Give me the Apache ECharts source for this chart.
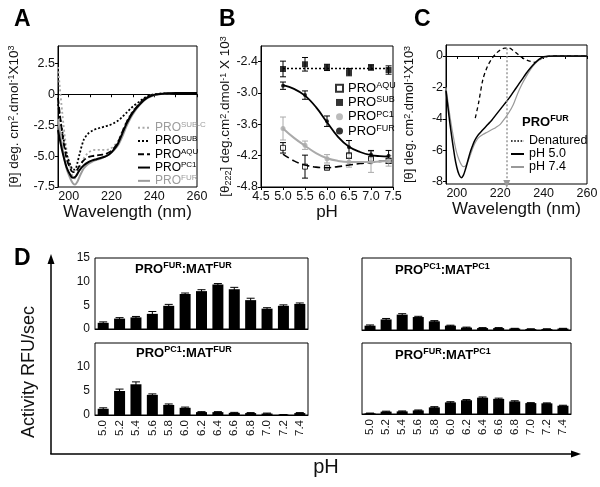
<!DOCTYPE html>
<html><head><meta charset="utf-8">
<script src="https://cdn.jsdelivr.net/npm/echarts@6/dist/echarts.min.js"></script>
<style>html,body{margin:0;padding:0;background:#fff}#c{width:600px;height:487px}</style>
</head><body><div id="c"></div>
<script>
// ---------- Panel A ----------
const wlA = [195,197,199,201,202,203,204,205,207,209,211,213,215,217,219,221,223,225,227,229,231,233,235,237,240,245,250,255,260];
const aSUBC = [2.2,-1.5,-4.5,-6.2,-6.7,-6.8,-6.5,-6.0,-5.2,-4.75,-4.55,-4.5,-4.5,-4.5,-4.45,-4.2,-3.8,-3.0,-2.2,-1.6,-1.1,-0.7,-0.4,-0.2,0.0,0.05,0.1,0.1,0.1];
const aSUB  = [-0.8,-3.0,-4.8,-5.8,-6.1,-6.1,-5.6,-4.9,-3.7,-3.2,-2.95,-2.8,-2.7,-2.6,-2.5,-2.35,-2.15,-1.85,-1.5,-1.15,-0.85,-0.6,-0.35,-0.15,0.0,0.08,0.1,0.1,0.1];
const aAQU  = [-0.3,-3.2,-5.2,-6.1,-6.3,-6.3,-6.1,-5.8,-5.35,-5.1,-5.0,-4.95,-4.9,-4.85,-4.7,-4.4,-3.9,-3.1,-2.3,-1.7,-1.2,-0.8,-0.45,-0.2,-0.03,0.05,0.1,0.1,0.1];
const aPC1  = [-2.9,-4.6,-5.9,-6.6,-6.75,-6.7,-6.45,-6.15,-5.75,-5.5,-5.35,-5.25,-5.15,-5.05,-4.85,-4.5,-4.0,-3.2,-2.4,-1.75,-1.25,-0.85,-0.5,-0.25,-0.05,0.05,0.1,0.1,0.1];
const aFUR  = [-2.0,-4.3,-6.0,-6.9,-7.2,-7.3,-7.1,-6.7,-6.0,-5.65,-5.45,-5.3,-5.2,-5.05,-4.85,-4.55,-4.15,-3.45,-2.6,-1.9,-1.35,-0.9,-0.55,-0.3,-0.08,0.05,0.1,0.1,0.1];
const ticksA_x = [200,210,220,230,240,250,260];
const labelsA_x = [200,220,240,260];
const labelsA_y = [-7.5,-5,-2.5,0,2.5];

// ---------- Panel B ----------
const phB = [5.0,5.5,6.0,6.5,7.0,7.4];
const bAQU = [-4.05,-4.41,-4.43,-4.2,-4.27,-4.3];
const bAQUerr = [0.1,0.22,0.04,0.05,0.05,0.05];
const bSUB = [-2.54,-2.45,-2.51,-2.6,-2.51,-2.56];
const bSUBerr = [0.15,0.13,0.06,0.07,0.05,0.08];
const bPC1 = [-3.68,-4.0,-4.26,-4.32,-4.32,-4.3];
const bPC1err = [0.22,0.08,0.08,0.1,0.2,0.1];
const bFUR = [-2.86,-3.04,-3.54,-4.04,-4.18,-4.2];
const bFURerr = [0.07,0.08,0.1,0.13,0.08,0.1];
const fitPH  = [5.0,5.25,5.5,5.75,6.0,6.25,6.5,6.75,7.0,7.2,7.4];
const fitAQU = [-4.17,-4.3,-4.38,-4.42,-4.43,-4.41,-4.38,-4.35,-4.33,-4.31,-4.3];
const fitSUB = [-2.53,-2.53,-2.53,-2.53,-2.53,-2.53,-2.53,-2.53,-2.53,-2.53,-2.53];
const fitPC1 = [-3.68,-3.86,-4.01,-4.15,-4.25,-4.3,-4.32,-4.32,-4.32,-4.31,-4.3];
const fitFUR = [-2.85,-2.92,-3.05,-3.27,-3.56,-3.84,-4.03,-4.13,-4.19,-4.21,-4.22];
const labelsB_y = [-4.8,-4.2,-3.6,-3.0,-2.4];

// ---------- Panel C ----------
const wlC = [195,197,199,200,201,202,203,204,205,206,207,208,209,210,212,214,216,218,220,222,224,226,228,230,232,234,236,238,240,245,250,255,260];
const cPH50 = [-2.2,-4.5,-6.4,-7.1,-7.55,-7.75,-7.6,-7.2,-6.7,-6.2,-5.8,-5.45,-5.2,-5.0,-4.7,-4.4,-4.1,-3.75,-3.4,-3.05,-2.7,-2.3,-1.9,-1.5,-1.1,-0.75,-0.45,-0.2,-0.05,0,0,0,0];
const cPH74 = [-2.0,-4.0,-5.6,-6.2,-6.6,-6.9,-7.05,-7.0,-6.75,-6.4,-6.0,-5.65,-5.4,-5.2,-5.0,-4.85,-4.7,-4.55,-4.35,-4.0,-3.6,-3.1,-2.4,-1.8,-1.3,-0.85,-0.5,-0.25,-0.08,0,0,0,0];
const wlDen = [208.5,210,212,214,216,218,220,222,224,226,228,230,232,234,236,238,240,245,250,255,260];
const cDen  = [-3.95,-3.0,-1.5,-0.7,-0.2,0.15,0.38,0.5,0.5,0.35,0.12,-0.1,-0.25,-0.35,-0.4,-0.25,-0.08,0,0,0,0];
const arrowWl = 223;
const labelsC_y = [-8,-6,-4,-2,0];

// ---------- Panel D ----------
const phD = ['5.0','5.2','5.4','5.6','5.8','6.0','6.2','6.4','6.6','6.8','7.0','7.2','7.4'];
const dFURFUR = [1.3,2.2,2.45,3.2,4.9,7.4,8.0,9.4,8.4,6.1,4.3,4.9,5.3];
const eFURFUR = [0.2,0.2,0.2,0.5,0.3,0.2,0.3,0.2,0.4,0.4,0.2,0.2,0.2];
const dPC1FUR = [1.3,5.0,6.4,4.2,2.1,1.5,0.6,0.6,0.45,0.4,0.3,0.05,0.4];
const ePC1FUR = [0.2,0.4,0.5,0.2,0.2,0.15,0.1,0.1,0.1,0.1,0.1,0.05,0.1];
const dPC1PC1 = [0.9,2.2,3.2,2.7,1.8,0.9,0.5,0.4,0.4,0.3,0.2,0.2,0.3];
const ePC1PC1 = [0.15,0.2,0.2,0.15,0.15,0.1,0.1,0.1,0.1,0.05,0.05,0.05,0.05];
const dFURPC1 = [0.15,0.5,0.55,0.75,1.4,2.45,2.9,3.45,3.2,2.65,2.3,2.25,1.75];
const eFURPC1 = [0.05,0.1,0.1,0.1,0.15,0.15,0.15,0.15,0.15,0.15,0.1,0.1,0.1];

const FF = "'Liberation Sans', Arial, Helvetica, sans-serif";
const GRAY = '#9c9c9c';
const zip = (xs, ys) => xs.map((x, i) => [x, ys[i]]);
const errData = (xs, ys, es) => xs.map((x, i) => [x, ys[i] - es[i], ys[i] + es[i]]);
const errDataCat = (ys, es) => ys.map((y, i) => [i, y - es[i], y + es[i]]);
function fmt(n) {
  const s = n.split('|')[1];
  const i = s.indexOf('^');
  return i < 0 ? s : s.slice(0, i) + '{sup|' + s.slice(i + 1) + '}';
}
function errRender(cap) {
  return function (params, api) {
    const x = api.value(0), lo = api.value(1), hi = api.value(2);
    const p1 = api.coord([x, lo]), p2 = api.coord([x, hi]);
    const st = { stroke: api.visual('color'), lineWidth: 1 };
    return { type: 'group', children: [
      { type: 'line', shape: { x1: p1[0], y1: p1[1], x2: p2[0], y2: p2[1] }, style: st },
      { type: 'line', shape: { x1: p1[0] - cap, y1: p1[1], x2: p1[0] + cap, y2: p1[1] }, style: st },
      { type: 'line', shape: { x1: p2[0] - cap, y1: p2[1], x2: p2[0] + cap, y2: p2[1] }, style: st }
    ]};
  };
}
const axisCommon = {
  axisLine: { lineStyle: { color: '#000', width: 1 } },
  axisTick: { lineStyle: { color: '#000' }, length: 3 },
  axisLabel: { color: '#111', fontSize: 12.5, fontFamily: FF },
  splitLine: { show: false },
  nameTextStyle: { color: '#111', fontFamily: FF }
};
function ax(o) { return echarts.util.merge(echarts.util.clone(axisCommon), o, true); }
const supRich = (fs) => ({ sup: { fontSize: fs, lineHeight: fs, verticalAlign: 'top', fontFamily: FF },
                           sub: { fontSize: fs, lineHeight: fs, verticalAlign: 'bottom', fontFamily: FF } });
const gridBase = { show: true, borderColor: '#000', borderWidth: 1, backgroundColor: 'transparent', containLabel: false, outerBoundsMode: 'none' };

const option = {
  animation: false,
  backgroundColor: '#fff',
  textStyle: { fontFamily: FF },
  grid: [
    Object.assign({ left: 58, top: 46, width: 139, height: 141 }, gridBase),
    Object.assign({ left: 261, top: 46, width: 132, height: 141 }, gridBase),
    Object.assign({ left: 446, top: 45, width: 141, height: 139 }, gridBase),
    Object.assign({ left: 95, top: 258, width: 213, height: 71 }, gridBase),
    Object.assign({ left: 95, top: 343, width: 213, height: 72 }, gridBase),
    Object.assign({ left: 362, top: 258, width: 209, height: 72 }, gridBase),
    Object.assign({ left: 362, top: 343, width: 209, height: 71 }, gridBase)
  ],
  xAxis: [
    ax({ gridIndex: 0, type: 'value', min: 195, max: 260,
      axisTick: { customValues: ticksA_x }, axisLabel: { customValues: labelsA_x, margin: 3 },
      name: 'Wavelength (nm)', nameLocation: 'middle', nameGap: 12, nameTextStyle: { fontSize: 17 } }),
    ax({ gridIndex: 1, type: 'value', min: 4.5, max: 7.5, interval: 0.5,
      axisLabel: { formatter: v => v.toFixed(1), margin: 3 },
      name: 'pH', nameLocation: 'middle', nameGap: 13, nameTextStyle: { fontSize: 17 } }),
    ax({ gridIndex: 2, type: 'value', min: 195, max: 260,
      axisTick: { customValues: ticksA_x }, axisLabel: { customValues: labelsA_x, margin: 3 },
      name: 'Wavelength (nm)', nameLocation: 'middle', nameGap: 13, nameTextStyle: { fontSize: 17 } }),
    ax({ gridIndex: 3, type: 'category', data: phD, axisTick: { alignWithLabel: true }, axisLabel: { show: false } }),
    ax({ gridIndex: 4, type: 'category', data: phD, axisTick: { alignWithLabel: true },
      axisLabel: { rotate: 90, fontSize: 11.5, margin: 5 } }),
    ax({ gridIndex: 5, type: 'category', data: phD, axisTick: { alignWithLabel: true }, axisLabel: { show: false } }),
    ax({ gridIndex: 6, type: 'category', data: phD, axisTick: { alignWithLabel: true },
      axisLabel: { rotate: 90, fontSize: 11.5, margin: 5 } })
  ],
  yAxis: [
    ax({ gridIndex: 0, type: 'value', min: -7.5, max: 3.9,
      axisTick: { customValues: labelsA_y },
      axisLabel: { customValues: labelsA_y, formatter: v => v === 0 ? '0' : v.toFixed(1), margin: 3 },
      name: '[θ] deg. cm{sup|2}.dmol{sup|-1}X10{sup|3}', nameLocation: 'middle', nameGap: 37,
      nameTextStyle: { fontSize: 13.5, rich: supRich(9) } }),
    ax({ gridIndex: 1, type: 'value', min: -4.8, max: -2.1,
      axisTick: { customValues: labelsB_y },
      axisLabel: { customValues: labelsB_y, formatter: v => v.toFixed(1), margin: 3 },
      name: '[θ{sub|222}] deg.cm{sup|2}.dmol{sup|-1} X 10{sup|3}', nameLocation: 'middle', nameGap: 25,
      nameTextStyle: { fontSize: 13.5, rich: supRich(9) } }),
    ax({ gridIndex: 2, type: 'value', min: -8.15, max: 0.7,
      axisTick: { customValues: labelsC_y },
      axisLabel: { customValues: labelsC_y, margin: 3 },
      name: '[θ] deg. cm{sup|2}.dmol{sup|-1}X10{sup|3}', nameLocation: 'middle', nameGap: 30,
      nameTextStyle: { fontSize: 13, rich: supRich(9) } }),
    ax({ gridIndex: 3, type: 'value', min: 0, max: 15, interval: 5, axisLabel: { fontSize: 12, margin: 5 } }),
    ax({ gridIndex: 4, type: 'value', min: 0, max: 15, interval: 5, axisLabel: { fontSize: 12, margin: 5, customValues: [0, 5, 10] } }),
    ax({ gridIndex: 5, type: 'value', min: 0, max: 15, interval: 5, axisLabel: { show: false } }),
    ax({ gridIndex: 6, type: 'value', min: 0, max: 15, interval: 5, axisLabel: { show: false } })
  ],
  legend: [
    { left: 132, top: 116, orient: 'vertical', itemWidth: 12, itemHeight: 10, itemGap: 0, selectedMode: false,
      itemStyle: { opacity: 0 },
      textStyle: { fontSize: 12, lineHeight: 13.3, color: '#000', fontFamily: FF, rich: supRich(8) },
      formatter: fmt,
      data: [{ name: 'A|PRO^SUB-C', textStyle: { color: GRAY } }, 'A|PRO^SUB', 'A|PRO^AQU', 'A|PRO^PC1',
             { name: 'A|PRO^FUR', textStyle: { color: GRAY } }] },
    { left: 330, top: 76, orient: 'vertical', itemWidth: 7, itemHeight: 7, itemGap: 0, selectedMode: false,
      textStyle: { fontSize: 13, lineHeight: 14.3, color: '#000', fontFamily: FF, rich: supRich(9) },
      formatter: fmt,
      data: ['B|PRO^AQU', 'B|PRO^SUB', 'B|PRO^PC1', 'B|PRO^FUR'] },
    { left: 505, top: 129.5, orient: 'vertical', itemWidth: 13, itemHeight: 8, itemGap: 0, selectedMode: false,
      itemStyle: { opacity: 0 },
      textStyle: { fontSize: 12.5, lineHeight: 11.2, color: '#000', fontFamily: FF },
      formatter: fmt,
      data: [{ name: 'C|Denatured', lineStyle: { type: [1.6, 1.6], width: 1.6 } }, 'C|pH 5.0', 'C|pH 7.4'] }
  ],
  series: [
    // A
    { name: 'A|PRO^SUB-C', type: 'line', xAxisIndex: 0, yAxisIndex: 0, data: zip(wlA, aSUBC), smooth: 0.3, showSymbol: false, symbol: 'none',
      color: '#a8a8a8', lineStyle: { color: '#a8a8a8', width: 1.8, type: [2, 2.5] } },
    { name: 'A|PRO^SUB', type: 'line', xAxisIndex: 0, yAxisIndex: 0, data: zip(wlA, aSUB), smooth: 0.3, showSymbol: false, symbol: 'none',
      color: '#000', lineStyle: { color: '#000', width: 1.8, type: [2, 2] } },
    { name: 'A|PRO^AQU', type: 'line', xAxisIndex: 0, yAxisIndex: 0, data: zip(wlA, aAQU), smooth: 0.3, showSymbol: false, symbol: 'none',
      color: '#000', lineStyle: { color: '#000', width: 1.8, type: [6, 3] } },
    { name: 'A|PRO^FUR', type: 'line', xAxisIndex: 0, yAxisIndex: 0, data: zip(wlA, aFUR), smooth: 0.3, showSymbol: false, symbol: 'none',
      color: GRAY, lineStyle: { color: GRAY, width: 2 } },
    { name: 'A|PRO^PC1', type: 'line', xAxisIndex: 0, yAxisIndex: 0, data: zip(wlA, aPC1), smooth: 0.3, showSymbol: false, symbol: 'none',
      color: '#000', lineStyle: { color: '#000', width: 2 } },
    // B fits
    { name: 'B|fitSUB', type: 'line', xAxisIndex: 1, yAxisIndex: 1, data: zip(fitPH, fitSUB), showSymbol: false, symbol: 'none',
      lineStyle: { color: '#000', width: 1.6, type: [2, 2] } },
    { name: 'B|fitAQU', type: 'line', xAxisIndex: 1, yAxisIndex: 1, data: zip(fitPH, fitAQU), smooth: 0.4, showSymbol: false, symbol: 'none',
      lineStyle: { color: '#000', width: 1.6, type: [7, 4] } },
    { name: 'B|fitPC1', type: 'line', xAxisIndex: 1, yAxisIndex: 1, data: zip(fitPH, fitPC1), smooth: 0.4, showSymbol: false, symbol: 'none',
      lineStyle: { color: '#aaa', width: 2 } },
    { name: 'B|fitFUR', type: 'line', xAxisIndex: 1, yAxisIndex: 1, data: zip(fitPH, fitFUR), smooth: 0.4, showSymbol: false, symbol: 'none',
      lineStyle: { color: '#000', width: 1.8 } },
    // B error bars
    { name: 'B|eAQU', type: 'custom', xAxisIndex: 1, yAxisIndex: 1, data: errData(phB, bAQU, bAQUerr), renderItem: errRender(3), itemStyle: { color: '#000' }, encode: { x: 0, y: [1, 2] } },
    { name: 'B|eSUB', type: 'custom', xAxisIndex: 1, yAxisIndex: 1, data: errData(phB, bSUB, bSUBerr), renderItem: errRender(3), itemStyle: { color: '#000' }, encode: { x: 0, y: [1, 2] } },
    { name: 'B|ePC1', type: 'custom', xAxisIndex: 1, yAxisIndex: 1, data: errData(phB, bPC1, bPC1err), renderItem: errRender(3), itemStyle: { color: '#aaa' }, encode: { x: 0, y: [1, 2] } },
    { name: 'B|eFUR', type: 'custom', xAxisIndex: 1, yAxisIndex: 1, data: errData(phB, bFUR, bFURerr), renderItem: errRender(3), itemStyle: { color: '#000' }, encode: { x: 0, y: [1, 2] } },
    // B points
    { name: 'B|PRO^AQU', type: 'scatter', xAxisIndex: 1, yAxisIndex: 1, data: zip(phB, bAQU), symbol: 'rect', symbolSize: 5,
      itemStyle: { color: '#fff', borderColor: '#000', borderWidth: 1 } },
    { name: 'B|PRO^SUB', type: 'scatter', xAxisIndex: 1, yAxisIndex: 1, data: zip(phB, bSUB), symbol: 'rect', symbolSize: 6,
      itemStyle: { color: '#000' } },
    { name: 'B|PRO^PC1', type: 'scatter', xAxisIndex: 1, yAxisIndex: 1, data: zip(phB, bPC1), symbol: 'circle', symbolSize: 5,
      itemStyle: { color: '#aaa' } },
    { name: 'B|PRO^FUR', type: 'scatter', xAxisIndex: 1, yAxisIndex: 1, data: zip(phB, bFUR), symbol: 'circle', symbolSize: 4,
      itemStyle: { color: '#000' } },
    // C
    { name: 'C|Denatured', type: 'line', xAxisIndex: 2, yAxisIndex: 2, data: zip(wlDen, cDen), smooth: 0.3, showSymbol: false, symbol: 'none',
      color: '#000', lineStyle: { color: '#000', width: 1.3, type: [4, 3] },
      markLine: { silent: true, symbol: ['none', 'triangle'], symbolSize: [7, 8], label: { show: false },
        lineStyle: { color: '#999', type: [2, 2], width: 1.5 },
        data: [[{ coord: [arrowWl, 0.5] }, { coord: [arrowWl, -8.15] }]] } },
    { name: 'C|pH 7.4', type: 'line', xAxisIndex: 2, yAxisIndex: 2, data: zip(wlC, cPH74), smooth: 0.3, showSymbol: false, symbol: 'none',
      color: '#999', lineStyle: { color: '#999', width: 1.2 } },
    { name: 'C|pH 5.0', type: 'line', xAxisIndex: 2, yAxisIndex: 2, data: zip(wlC, cPH50), smooth: 0.3, showSymbol: false, symbol: 'none',
      color: '#000', lineStyle: { color: '#000', width: 1.5 } },
    // D bars
    { name: 'D|FURFUR', type: 'bar', xAxisIndex: 3, yAxisIndex: 3, data: dFURFUR, barWidth: 11, itemStyle: { color: '#000' } },
    { name: 'D|PC1FUR', type: 'bar', xAxisIndex: 4, yAxisIndex: 4, data: dPC1FUR, barWidth: 11, itemStyle: { color: '#000' } },
    { name: 'D|PC1PC1', type: 'bar', xAxisIndex: 5, yAxisIndex: 5, data: dPC1PC1, barWidth: 11, itemStyle: { color: '#000' } },
    { name: 'D|FURPC1', type: 'bar', xAxisIndex: 6, yAxisIndex: 6, data: dFURPC1, barWidth: 11, itemStyle: { color: '#000' } },
    { name: 'D|e1', type: 'custom', xAxisIndex: 3, yAxisIndex: 3, data: errDataCat(dFURFUR, eFURFUR), renderItem: errRender(4), itemStyle: { color: '#000' }, encode: { x: 0, y: [1, 2] } },
    { name: 'D|e2', type: 'custom', xAxisIndex: 4, yAxisIndex: 4, data: errDataCat(dPC1FUR, ePC1FUR), renderItem: errRender(4), itemStyle: { color: '#000' }, encode: { x: 0, y: [1, 2] } },
    { name: 'D|e3', type: 'custom', xAxisIndex: 5, yAxisIndex: 5, data: errDataCat(dPC1PC1, ePC1PC1), renderItem: errRender(4), itemStyle: { color: '#000' }, encode: { x: 0, y: [1, 2] } },
    { name: 'D|e4', type: 'custom', xAxisIndex: 6, yAxisIndex: 6, data: errDataCat(dFURPC1, eFURPC1), renderItem: errRender(4), itemStyle: { color: '#000' }, encode: { x: 0, y: [1, 2] } }
  ],
  graphic: [
    { type: 'text', x: 14, y: 20, style: { text: 'A', font: 'bold 23px ' + FF, fill: '#000', align: 'left', verticalAlign: 'middle' } },
    { type: 'text', x: 219, y: 20, style: { text: 'B', font: 'bold 23px ' + FF, fill: '#000', align: 'left', verticalAlign: 'middle' } },
    { type: 'text', x: 414, y: 20, style: { text: 'C', font: 'bold 23px ' + FF, fill: '#000', align: 'left', verticalAlign: 'middle' } },
    { type: 'text', x: 14, y: 259, style: { text: 'D', font: 'bold 23px ' + FF, fill: '#000', align: 'left', verticalAlign: 'middle' } },
    { type: 'text', x: 522, y: 122, style: { text: 'PRO{s|FUR}', font: 'bold 13px ' + FF, lineHeight: 15, fill: '#000', align: 'left', verticalAlign: 'middle',
      rich: { s: { fontSize: 9, fontWeight: 'bold', fontFamily: FF, lineHeight: 9, verticalAlign: 'top' } } } },
    { type: 'text', x: 135, y: 269, style: { text: 'PRO{s|FUR}:MAT{s|FUR}', font: 'bold 13px ' + FF, lineHeight: 15, fill: '#000', align: 'left', verticalAlign: 'middle',
      rich: { s: { fontSize: 9, fontWeight: 'bold', fontFamily: FF, lineHeight: 9, verticalAlign: 'top' } } } },
    { type: 'text', x: 136, y: 353, style: { text: 'PRO{s|PC1}:MAT{s|FUR}', font: 'bold 13px ' + FF, lineHeight: 15, fill: '#000', align: 'left', verticalAlign: 'middle',
      rich: { s: { fontSize: 9, fontWeight: 'bold', fontFamily: FF, lineHeight: 9, verticalAlign: 'top' } } } },
    { type: 'text', x: 395, y: 270, style: { text: 'PRO{s|PC1}:MAT{s|PC1}', font: 'bold 13px ' + FF, lineHeight: 15, fill: '#000', align: 'left', verticalAlign: 'middle',
      rich: { s: { fontSize: 9, fontWeight: 'bold', fontFamily: FF, lineHeight: 9, verticalAlign: 'top' } } } },
    { type: 'text', x: 395, y: 355, style: { text: 'PRO{s|FUR}:MAT{s|PC1}', font: 'bold 13px ' + FF, lineHeight: 15, fill: '#000', align: 'left', verticalAlign: 'middle',
      rich: { s: { fontSize: 9, fontWeight: 'bold', fontFamily: FF, lineHeight: 9, verticalAlign: 'top' } } } },
    { type: 'line', shape: { x1: 51, y1: 454, x2: 51, y2: 262 }, style: { stroke: '#000', lineWidth: 1.5 } },
    { type: 'polygon', shape: { points: [[51, 254], [47.5, 264], [54.5, 264]] }, style: { fill: '#000' } },
    { type: 'line', shape: { x1: 50.25, y1: 454, x2: 572, y2: 454 }, style: { stroke: '#000', lineWidth: 1.5 } },
    { type: 'polygon', shape: { points: [[581, 454], [571, 450.5], [571, 457.5]] }, style: { fill: '#000' } },
    { type: 'text', x: 29, y: 372, rotation: Math.PI / 2, style: { text: 'Activity RFU/sec', font: '18px ' + FF, fill: '#111', align: 'center', verticalAlign: 'middle' } },
    { type: 'text', x: 326, y: 467, style: { text: 'pH', font: '20px ' + FF, fill: '#111', align: 'center', verticalAlign: 'middle' } }
  ]
};
const chart = echarts.init(document.getElementById('c'), null, { renderer: 'canvas', width: 600, height: 487 });
chart.setOption(option);
</script>
</body></html>
